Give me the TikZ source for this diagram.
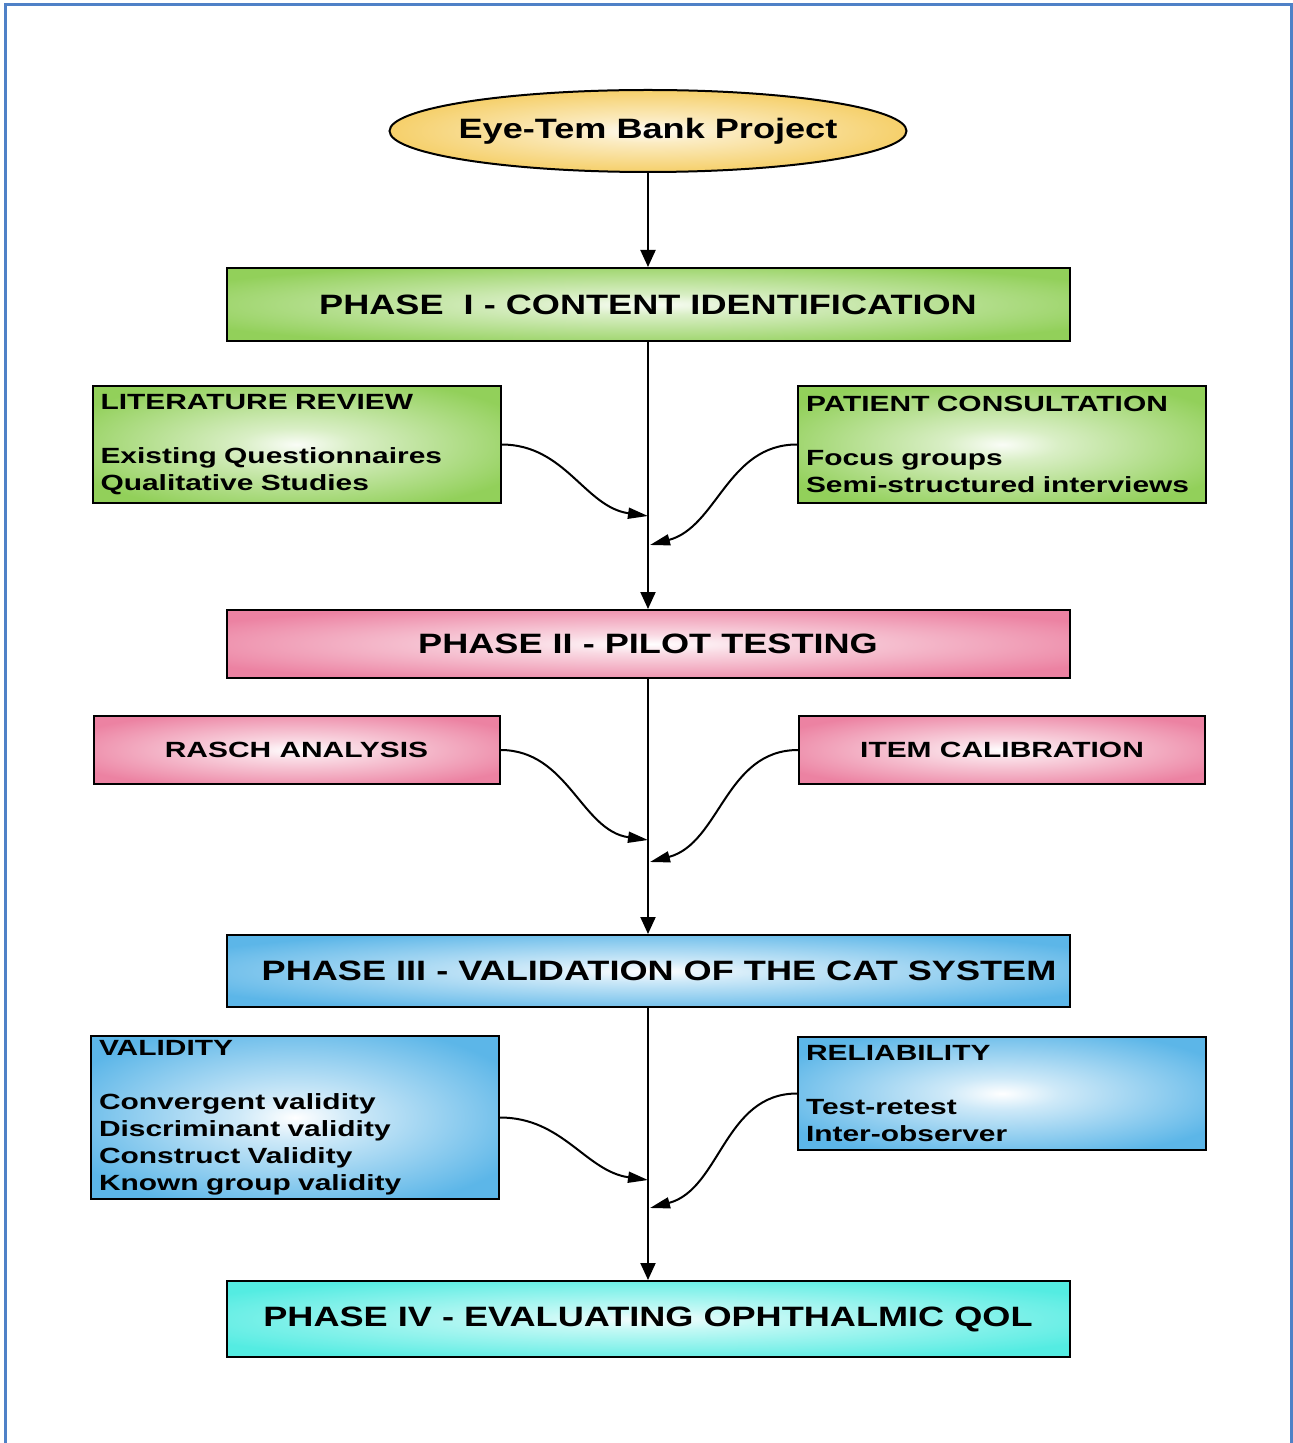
\documentclass[tikz,border=0pt]{standalone}
\usepackage{fontspec}
\setmainfont{Liberation Sans}
\newfontfamily\widehead[FakeStretch=1.29]{Liberation Sans}
\newfontfamily\widesub[FakeStretch=1.36]{Liberation Sans}
\usetikzlibrary{arrows.meta,shapes.geometric}
\definecolor{framecol}{RGB}{79,129,199}
\definecolor{gold}{RGB}{244,200,82}
\definecolor{leaf}{RGB}{146,208,90}
\definecolor{rose}{RGB}{236,130,162}
\definecolor{sky}{RGB}{92,182,232}
\definecolor{aqua}{RGB}{84,236,226}
\pgfdeclareradialshading{glowgold}{\pgfpoint{0bp}{0bp}}{color(0bp)=(white!96!gold); color(7bp)=(gold!35); color(30bp)=(gold); color(100bp)=(gold)}
\pgfdeclareradialshading{glowleaf}{\pgfpoint{0bp}{0bp}}{color(0bp)=(white!95!leaf); color(7bp)=(leaf!35); color(30bp)=(leaf); color(100bp)=(leaf)}
\pgfdeclareradialshading{glowrose}{\pgfpoint{0bp}{0bp}}{color(0bp)=(white); color(7bp)=(rose!30); color(30bp)=(rose); color(100bp)=(rose)}
\pgfdeclareradialshading{glowsky}{\pgfpoint{0bp}{0bp}}{color(0bp)=(white); color(7bp)=(sky!30); color(30bp)=(sky); color(100bp)=(sky)}
\pgfdeclareradialshading{glowaqua}{\pgfpoint{0bp}{0bp}}{color(0bp)=(white!95!aqua); color(7bp)=(aqua!35); color(30bp)=(aqua); color(100bp)=(aqua)}
\tikzset{
  shade/.style={shading=glow#1},
  phase/.style={draw, line width=1pt, shade=#1, minimum width=421.5pt,
    inner sep=0pt, font=\widehead\bfseries\fontsize{14}{16}\selectfont},
  sub/.style={draw, line width=1pt, shade=#1, inner xsep=4pt, inner ysep=2pt,
    minimum width=204pt, text width=196pt, align=left,
    font=\widesub\bfseries\fontsize{11}{13.5}\selectfont},
  subc/.style={draw, line width=1pt, shade=#1, minimum width=203pt,
    minimum height=34pt, inner sep=0pt, font=\widesub\bfseries\fontsize{11}{13.5}\selectfont},
  link/.style={line width=1pt, -{Triangle[length=8.5pt,width=7.5pt]}},
  feed/.style={line width=1pt, -{Triangle[length=10pt,width=5.5pt]}}
}
\begin{document}
\begin{tikzpicture}[x=0.5pt,y=-0.5pt]
  \useasboundingbox (0,0) rectangle (1293,1443);
  \draw[framecol, line width=1.5pt] (5,1443) -- (5,5) -- (1291,5) -- (1291,1443);

  \node[ellipse, draw, line width=1pt, shade=gold, minimum width=258.5pt,
    minimum height=41pt, inner xsep=-6pt, inner ysep=0pt,
    font=\widehead\bfseries\fontsize{14}{16}\selectfont]
    (top) at (648,131) {Eye-Tem Bank Project};

  \node[phase=leaf, minimum height=36.5pt] (p1) at (648,304.5)
    {PHASE\ \ I - CONTENT IDENTIFICATION};
  \node[phase=rose, minimum height=34pt] (p2) at (648,644)
    {PHASE II - PILOT TESTING};
  \node[phase=sky, minimum height=36pt] (p3) at (648,971)
    {\hspace*{11pt}PHASE III - VALIDATION OF THE CAT SYSTEM};
  \node[phase=aqua, minimum height=38pt] (p4) at (648,1319)
    {PHASE IV - EVALUATING OPHTHALMIC QOL};

  \node[sub=leaf, minimum height=58.5pt] (lit) at (296.5,444.5)
    {LITERATURE REVIEW\\[13.5pt]Existing Questionnaires\\Qualitative Studies};
  \node[sub=leaf, minimum height=58.5pt] (pat) at (1002,444.5)
    {PATIENT CONSULTATION\\[13.5pt]Focus groups\\Semi-structured interviews};
  \node[subc=rose] (rasch) at (296.5,750) {RASCH ANALYSIS};
  \node[subc=rose] (item) at (1002,750) {ITEM CALIBRATION};
  \node[sub=sky, minimum height=80.5pt] (val) at (295,1117.5)
    {VALIDITY\\[13.5pt]Convergent validity\\Discriminant validity\\Construct Validity\\Known group validity};
  \node[sub=sky, minimum height=56.5pt] (rel) at (1002,1093.5)
    {RELIABILITY\\[13.5pt]Test-retest\\Inter-observer};

  % joins on the spine
  \coordinate (j1) at (648,516);
  \coordinate (j2) at (650,545);
  \coordinate (j3) at (648,840);
  \coordinate (j4) at (650,862);
  \coordinate (j5) at (648,1180);
  \coordinate (j6) at (650,1208);

  \draw[link] (top) -- (p1);
  \draw[link] (p1) -- (p2);
  \draw[link] (p2) -- (p3);
  \draw[link] (p3) -- (p4);

  \draw[feed] (lit.east) to[out=0,in=172] (j1);
  \draw[feed] (pat.west) to[out=180,in=15] (j2);
  \draw[feed] (rasch.east) to[out=0,in=172] (j3);
  \draw[feed] (item.west) to[out=180,in=15] (j4);
  \draw[feed] (val.east) to[out=0,in=172] (j5);
  \draw[feed] (rel.west) to[out=180,in=15] (j6);
\end{tikzpicture}
\end{document}
